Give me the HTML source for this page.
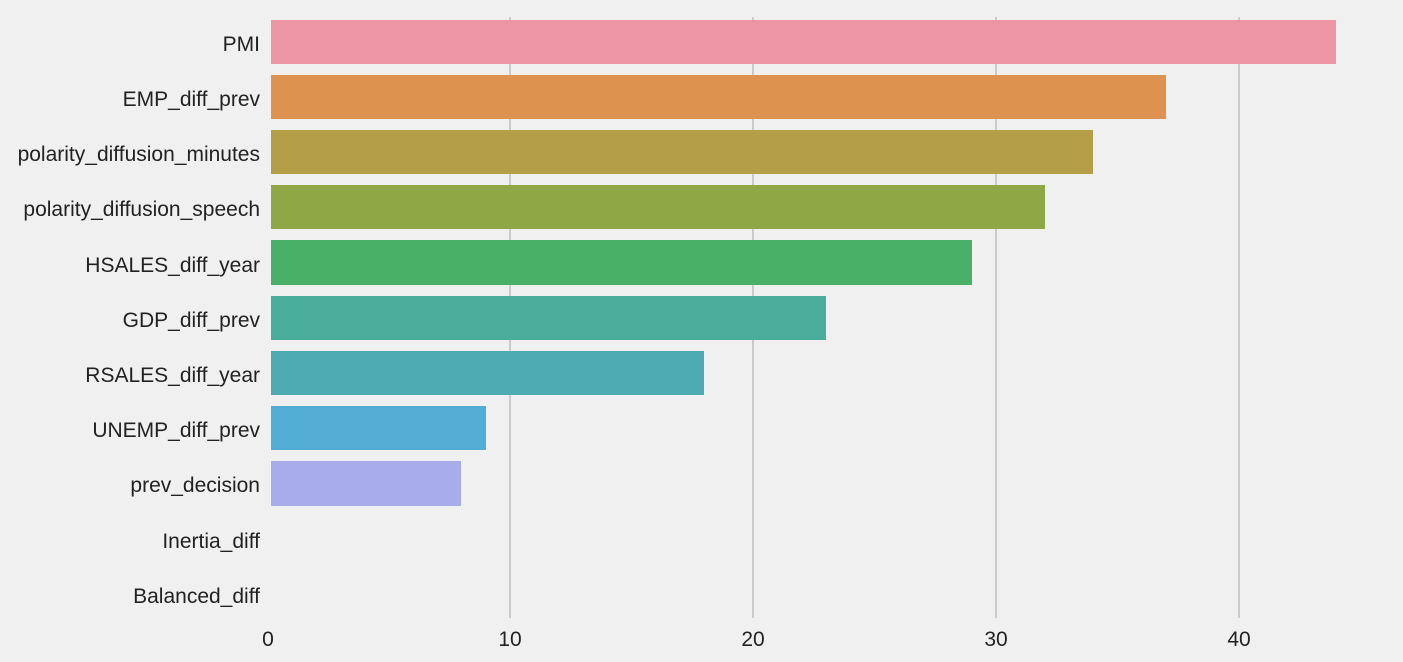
<!DOCTYPE html>
<html><head><style>
body{margin:0;background:#f0f0f0;}
svg{display:block;font-family:"Liberation Sans","DejaVu Sans",sans-serif;}
</style></head><body>
<svg width="1403" height="662" xmlns="http://www.w3.org/2000/svg">
<rect width="1403" height="662" fill="#f0f0f0"/>
<g stroke="#cbcbcb" stroke-width="2">
<line x1="510" y1="17" x2="510" y2="618"/>
<line x1="753" y1="17" x2="753" y2="618"/>
<line x1="996" y1="17" x2="996" y2="618"/>
<line x1="1239" y1="17" x2="1239" y2="618"/>
</g>
<rect x="271" y="20" width="1065" height="44" fill="#ec96a4"/>
<rect x="271" y="75" width="895" height="44" fill="#dd924f"/>
<rect x="271" y="130" width="822" height="44" fill="#b49e48"/>
<rect x="271" y="185" width="774" height="44" fill="#8fa845"/>
<rect x="271" y="240" width="701" height="45" fill="#48b067"/>
<rect x="271" y="296" width="555" height="44" fill="#4aad9c"/>
<rect x="271" y="351" width="433" height="44" fill="#4eabb4"/>
<rect x="271" y="406" width="215" height="44" fill="#52acd4"/>
<rect x="271" y="461" width="190" height="45" fill="#a9acea"/>
<g font-size="21" fill="#222" text-anchor="end">
<text x="260" y="51">PMI</text>
<text x="260" y="106">EMP_diff_prev</text>
<text x="260" y="161">polarity_diffusion_minutes</text>
<text x="260" y="216">polarity_diffusion_speech</text>
<text x="260" y="272">HSALES_diff_year</text>
<text x="260" y="327">GDP_diff_prev</text>
<text x="260" y="382">RSALES_diff_year</text>
<text x="260" y="437">UNEMP_diff_prev</text>
<text x="260" y="492">prev_decision</text>
<text x="260" y="548">Inertia_diff</text>
<text x="260" y="603">Balanced_diff</text>
</g>
<g font-size="21" fill="#222" text-anchor="middle">
<text x="268" y="646">0</text>
<text x="510" y="646">10</text>
<text x="753" y="646">20</text>
<text x="996" y="646">30</text>
<text x="1239" y="646">40</text>
</g>
</svg>
</body></html>
